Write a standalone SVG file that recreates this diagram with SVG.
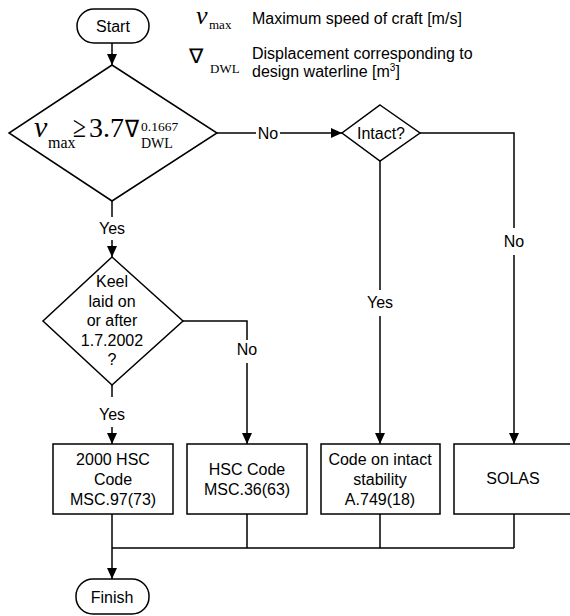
<svg xmlns="http://www.w3.org/2000/svg" width="570" height="616" viewBox="0 0 570 616">
<style>
.s{fill:#fff;stroke:#000;stroke-width:1.5}
.c{fill:none;stroke:#000;stroke-width:1.5}
.t{font-family:"Liberation Sans",Arial,sans-serif;font-size:16px;fill:#000;text-anchor:middle}
.l{font-family:"Liberation Sans",Arial,sans-serif;font-size:16px;fill:#000}
.m{font-family:"Liberation Serif","Times New Roman",serif;fill:#000}
</style>
<defs>
<marker id="ah" viewBox="0 0 11 10" refX="11" refY="5" markerWidth="11" markerHeight="10" markerUnits="userSpaceOnUse" orient="auto">
<path d="M0,0 L11,5 L0,10 z" fill="#000"/>
</marker>
</defs>
<rect width="570" height="616" fill="#fff"/>
<g id="legend">
<text class="m" x="196" y="24" font-size="26" font-style="italic">v</text>
<text class="m" x="209" y="29" font-size="13">max</text>
<text class="l" x="252" y="24">Maximum speed of craft [m/s]</text>
<text class="m" x="189" y="63" font-size="20" textLength="14" lengthAdjust="spacingAndGlyphs">∇</text>
<text class="m" x="210" y="73" font-size="13">DWL</text>
<text class="l" x="252" y="59">Displacement corresponding to</text>
<text class="l" x="252" y="77">design waterline [m<tspan font-size="10" dy="-6">3</tspan><tspan dy="6">]</tspan></text>
</g>
<g id="connectors">
<path class="c" d="M112,43 V65" marker-end="url(#ah)"/>
<path class="c" d="M112,201 V217"/>
<path class="c" d="M112,240 V257" marker-end="url(#ah)"/>
<path class="c" d="M217,133 H256"/>
<path class="c" d="M280,133 H342" marker-end="url(#ah)"/>
<path class="c" d="M420,133 H514 V228"/>
<path class="c" d="M514,255 V444" marker-end="url(#ah)"/>
<path class="c" d="M380,161 V290"/>
<path class="c" d="M380,316 V444" marker-end="url(#ah)"/>
<path class="c" d="M183,321 H247 V340"/>
<path class="c" d="M247,363 V444" marker-end="url(#ah)"/>
<path class="c" d="M112,385 V397"/>
<path class="c" d="M112,427 V444" marker-end="url(#ah)"/>
<path class="c" d="M112,514 V579" marker-end="url(#ah)"/>
<path class="c" d="M112,548 H514 M247,514 V548 M380,514 V548 M514,514 V548"/>
<text class="t" x="268" y="139">No</text>
<text class="t" x="112" y="234">Yes</text>
<text class="t" x="514" y="247">No</text>
<text class="t" x="380" y="308">Yes</text>
<text class="t" x="247" y="355">No</text>
<text class="t" x="112" y="420">Yes</text>
</g>
<g id="start">
<rect class="s" x="77" y="9" width="72" height="34" rx="17"/>
<text class="t" x="113" y="32">Start</text>
</g>
<g id="speed-check">
<polygon class="s" points="112,65 217,133 112,201 9,133"/>
<text class="m" x="34" y="137" font-size="30" font-style="italic">v</text>
<text class="m" x="48" y="148" font-size="16">max</text>
<text class="m" x="73" y="137" font-size="30" textLength="13" lengthAdjust="spacingAndGlyphs">≥</text>
<text class="m" x="89" y="137" font-size="28">3.7</text>
<text class="m" x="125" y="137" font-size="24" textLength="14" lengthAdjust="spacingAndGlyphs">∇</text>
<text class="m" x="141" y="131" font-size="13.5">0.1667</text>
<text class="m" x="141" y="148" font-size="14">DWL</text>
</g>
<g id="intact">
<polygon class="s" points="380,105 420,133 380,161 342,133"/>
<text class="t" x="381" y="139">Intact?</text>
</g>
<g id="keel">
<polygon class="s" points="112,257 183,321 112,385 43,321"/>
<text class="t" x="112" y="287">Keel</text>
<text class="t" x="112" y="307">laid on</text>
<text class="t" x="112" y="326">or after</text>
<text class="t" x="112" y="346">1.7.2002</text>
<text class="t" x="112" y="365">?</text>
</g>
<g id="hsc2000">
<rect class="s" x="53" y="444" width="120" height="70"/>
<text class="t" x="113" y="465">2000 HSC</text>
<text class="t" x="113" y="485">Code</text>
<text class="t" x="113" y="505">MSC.97(73)</text>
</g>
<g id="hsc">
<rect class="s" x="187" y="444" width="120" height="70"/>
<text class="t" x="247" y="475">HSC Code</text>
<text class="t" x="247" y="495">MSC.36(63)</text>
</g>
<g id="intact-code">
<rect class="s" x="321" y="444" width="119" height="70"/>
<text class="t" x="380" y="465">Code on intact</text>
<text class="t" x="380" y="485">stability</text>
<text class="t" x="380" y="505">A.749(18)</text>
</g>
<g id="solas">
<rect class="s" x="454" y="444" width="120" height="70"/>
<text class="t" x="513" y="484">SOLAS</text>
</g>
<g id="finish">
<rect class="s" x="76" y="579" width="73" height="35" rx="17"/>
<text class="t" x="112" y="603">Finish</text>
</g>
</svg>
